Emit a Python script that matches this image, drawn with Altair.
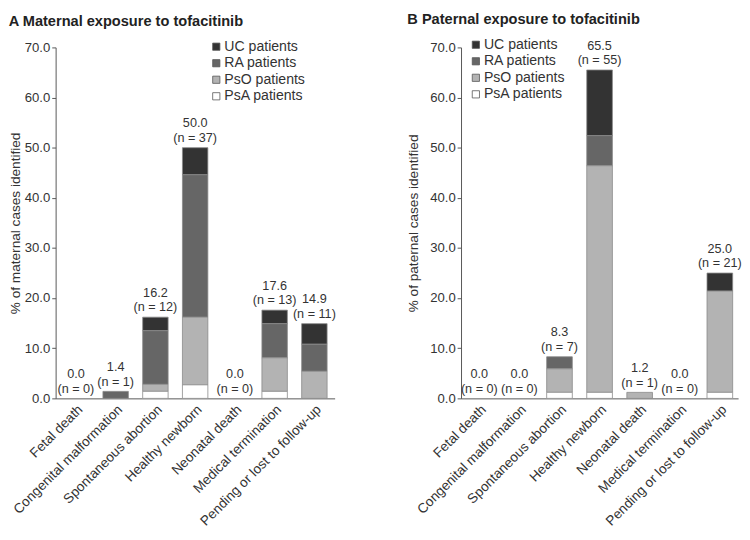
import altair as alt
import pandas as pd

categories = ["Fetal death", "Congenital malformation", "Spontaneous abortion",
              "Healthy newborn", "Neonatal death", "Medical termination",
              "Pending or lost to follow-up"]
series = ["UC patients", "RA patients", "PsO patients", "PsA patients"]
series_colors = ["#333333", "#666666", "#b3b3b3", "#ffffff"]

# Maternal exposure (% of maternal cases)
maternal_uc = [0.0, 0.0, 2.7, 5.4, 0.0, 2.7, 4.1]
maternal_ra = [0.0, 1.4, 10.7, 28.4, 0.0, 6.8, 5.4]
maternal_pso = [0.0, 0.0, 1.4, 13.5, 0.0, 6.7, 5.4]
maternal_psa = [0.0, 0.0, 1.4, 2.7, 0.0, 1.4, 0.0]
maternal_total = [0.0, 1.4, 16.2, 50.0, 0.0, 17.6, 14.9]
maternal_n = [0, 1, 12, 37, 0, 13, 11]

# Paternal exposure (% of paternal cases)
paternal_uc = [0.0, 0.0, 0.0, 13.1, 0.0, 0.0, 3.6]
paternal_ra = [0.0, 0.0, 2.4, 6.0, 0.0, 0.0, 0.0]
paternal_pso = [0.0, 0.0, 4.7, 45.2, 1.2, 0.0, 20.2]
paternal_psa = [0.0, 0.0, 1.2, 1.2, 0.0, 0.0, 1.2]
paternal_total = [0.0, 0.0, 8.3, 65.5, 1.2, 0.0, 25.0]
paternal_n = [0, 0, 7, 55, 1, 0, 21]

FONT = "Liberation Sans"
TXT = "#333333"


def make_panel(title, ytitle, uc, ra, pso, psa, total, n, legend_x, legend_y,
               title_pad, width, pad_outer):
    rows = []
    for i, c in enumerate(categories):
        for j, (s, vals) in enumerate(zip(series, [uc, ra, pso, psa])):
            if vals[i] > 0:
                rows.append({"category": c, "series": s, "value": vals[i], "order": 3 - j})
    seg = pd.DataFrame(rows)
    lab = pd.DataFrame({
        "category": categories,
        "total": total,
        "pct": [f"{t:.1f}" for t in total],
        "ncase": [f"(n = {k})" for k in n],
    })
    xscale = alt.Scale(paddingInner=0.36, paddingOuter=pad_outer)
    x = alt.X("category:N", sort=categories, title=None, scale=xscale,
              axis=alt.Axis(labelAngle=-45, ticks=False, domainColor="#555555",
                            labelFontSize=14, labelColor=TXT, labelPadding=4,
                            labelFont=FONT))
    bars = alt.Chart(seg).mark_bar(stroke="#888888", strokeWidth=0.8).encode(
        x=x,
        y=alt.Y("sum(value):Q", stack="zero", title=ytitle,
                scale=alt.Scale(domain=[0, 70], nice=False),
                axis=alt.Axis(values=[0, 10, 20, 30, 40, 50, 60, 70], format=".1f",
                              grid=False, tickSize=4, domainColor="#555555",
                              tickColor="#555555", labelFontSize=13.5,
                              labelColor=TXT, labelPadding=2, titleFontSize=14,
                              titleFontWeight="normal", titleColor=TXT,
                              titlePadding=title_pad, labelFont=FONT, titleFont=FONT)),
        color=alt.Color("series:N", sort=series,
                        scale=alt.Scale(domain=series, range=series_colors),
                        legend=alt.Legend(title=None, orient="none",
                                          legendX=legend_x, legendY=legend_y,
                                          symbolType="square", symbolSize=55,
                                          symbolStrokeColor="#555555",
                                          symbolStrokeWidth=0.8,
                                          labelFontSize=14.5, labelColor=TXT,
                                          labelFont=FONT, rowPadding=2,
                                          labelOffset=1)),
        order=alt.Order("order:Q", sort="ascending"),
    )
    xs = alt.X("category:N", sort=categories, scale=xscale)
    pct_text = alt.Chart(lab).mark_text(baseline="bottom", dy=-18, fontSize=13,
                                        fill=TXT, font=FONT).encode(
        x=xs, y=alt.Y("total:Q"), text="pct:N")
    n_text = alt.Chart(lab).mark_text(baseline="bottom", dy=-3, fontSize=13,
                                      fill=TXT, font=FONT).encode(
        x=xs, y=alt.Y("total:Q"), text="ncase:N")
    return alt.layer(bars, pct_text, n_text).properties(
        width=width, height=361,
        title=alt.TitleParams(title, anchor="start", frame="bounds", fontSize=15,
                              fontWeight="bold", font=FONT, color="#222222",
                              offset=11),
    )


left = make_panel("A  Maternal exposure to tofacitinib", "% of maternal cases identified",
                  maternal_uc, maternal_ra, maternal_pso, maternal_psa,
                  maternal_total, maternal_n, 158, -8, 2, 287, 0.19)
right = make_panel("B  Paternal exposure to tofacitinib", "% of paternal cases identified",
                   paternal_uc, paternal_ra, paternal_pso, paternal_psa,
                   paternal_total, paternal_n, 8, -10, 9, 285, 0.136)

chart = alt.hconcat(left, right, spacing=72).resolve_scale(
    color="independent", x="independent", y="independent"
).resolve_legend(color="independent").configure_view(stroke=None).properties(
    padding={"left": 0, "top": -3, "right": 0, "bottom": 0}
)

chart.save("out.html", embed_options={"renderer": "svg", "actions": False})
